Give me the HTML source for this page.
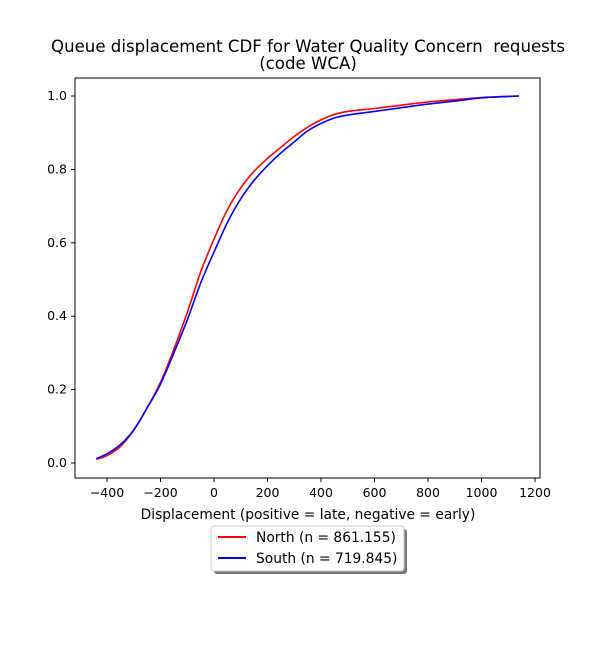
<!DOCTYPE html>
<html><head><meta charset="utf-8"><style>
body{margin:0;background:#fff;}
svg{display:block;font-family:"DejaVu Sans","Liberation Sans",sans-serif;}
</style></head><body>
<svg id="chart" width="600" height="650" xmlns="http://www.w3.org/2000/svg">
<rect width="600" height="650" fill="#fff"/>
<text x="308" y="52" font-size="16.6" text-anchor="middle" style="white-space:pre">Queue displacement CDF for Water Quality Concern  requests</text>
<text x="308" y="69" font-size="16.6" text-anchor="middle">(code WCA)</text>
<g id="axes"></g>
<g id="series"></g>
<rect x="75" y="78" width="465" height="400" fill="none" stroke="#000" stroke-width="1"/>
<text x="308" y="519" font-size="13.8" text-anchor="middle">Displacement (positive = late, negative = early)</text>
<g>
<rect x="214" y="529" width="193" height="45" rx="3" fill="#777"/>
<rect x="211" y="526" width="193" height="45" rx="3" fill="#fff" stroke="#ccc"/>
<line x1="218" y1="537" x2="246" y2="537" stroke="red" stroke-width="2"/>
<text x="256" y="542" font-size="13.8">North (n = 861.155)</text>
<line x1="218" y1="558" x2="246" y2="558" stroke="blue" stroke-width="2"/>
<text x="256" y="563" font-size="13.8">South (n = 719.845)</text>
</g>
</svg>
<script>
const xTicks=[-400,-200,0,200,400,600,800,1000,1200];
const yTicks=[0.0,0.2,0.4,0.6,0.8,1.0];
const xVals=[-440,-400,-350,-300,-250,-200,-150,-100,-50,0,50,100,150,200,250,300,350,400,450,500,600,700,800,900,1000,1140];
const northVals=[0.01,0.02,0.045,0.09,0.15,0.22,0.31,0.41,0.52,0.61,0.69,0.75,0.795,0.83,0.86,0.89,0.915,0.935,0.95,0.958,0.966,0.975,0.984,0.99,0.996,1.0];
const southVals=[0.012,0.025,0.05,0.09,0.15,0.215,0.30,0.39,0.49,0.575,0.655,0.72,0.77,0.81,0.845,0.875,0.905,0.925,0.94,0.948,0.958,0.968,0.978,0.986,0.995,1.0];
const NS="http://www.w3.org/2000/svg";
function xs(v){return 214+v*0.2675;}
function ys(v){return 463-v*367;}
const axes=document.getElementById('axes');
function mk(tag,attrs,parent){const e=document.createElementNS(NS,tag);for(const k in attrs)e.setAttribute(k,attrs[k]);parent.appendChild(e);return e;}
xTicks.forEach(t=>{
  const l=mk('line',{x1:xs(t),x2:xs(t),y1:478,y2:482,stroke:'#000'},axes);
  
  
  const tx=mk('text',{x:xs(t),y:497,'font-size':12.5,'text-anchor':'middle'},axes);
  tx.textContent=(t<0?'\u2212'+(-t):t);
  
  
});
yTicks.forEach(t=>{
  const l=mk('line',{x1:71,x2:75,y1:ys(t),y2:ys(t),stroke:'#000'},axes);
  
  
  const tx=mk('text',{x:67,y:ys(t)+4,'font-size':12.5,'text-anchor':'end'},axes);
  tx.textContent=t.toFixed(1);
  
  
});
const series=document.getElementById('series');
function line(vals,color,name){
  const P=xVals.map((x,i)=>[xs(x),ys(vals[i])]);
  let d='M'+P[0][0].toFixed(1)+','+P[0][1].toFixed(1);
  for(let i=0;i<P.length-1;i++){
    const p0=P[Math.max(i-1,0)],p1=P[i],p2=P[i+1],p3=P[Math.min(i+2,P.length-1)];
    const c1=[p1[0]+(p2[0]-p0[0])/6,p1[1]+(p2[1]-p0[1])/6];
    const c2=[p2[0]-(p3[0]-p1[0])/6,p2[1]-(p3[1]-p1[1])/6];
    d+=' C'+c1.map(v=>v.toFixed(1)).join(',')+' '+c2.map(v=>v.toFixed(1)).join(',')+' '+p2.map(v=>v.toFixed(1)).join(',');
  }
  const p=mk('path',{d:d,fill:'none',stroke:color,'stroke-width':1.6,'stroke-linejoin':'round'},series);
  
  
}
line(northVals,'red','north-cdf-line');
line(southVals,'blue','south-cdf-line');
</script>
</body></html>
